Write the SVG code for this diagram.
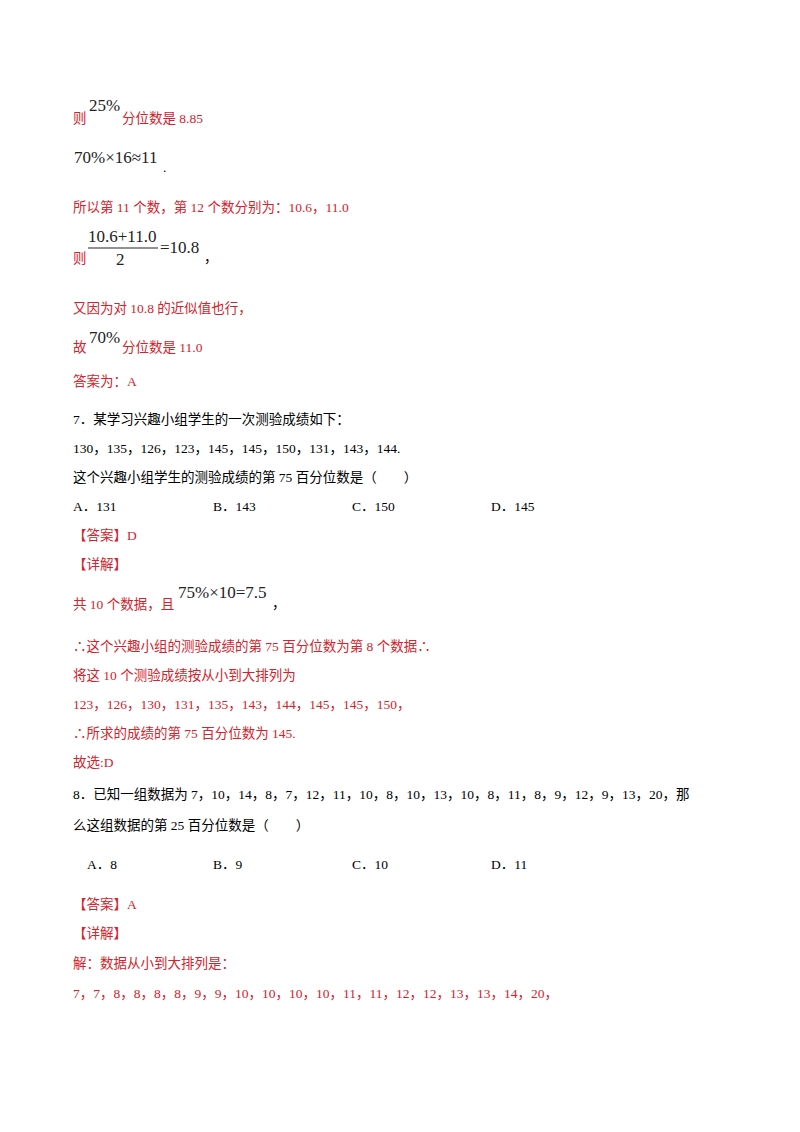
<svg xmlns="http://www.w3.org/2000/svg" width="800" height="1132" viewBox="0 0 800 1132">
<style>
text{font-family:"Liberation Serif","Noto Sans CJK SC",serif;font-size:13.5px;fill:#000}
.r{fill:#d3232c}
.m{font-family:"Liberation Serif",serif;font-size:17px;fill:#222}
</style>
<rect width="800" height="1132" fill="#fff"/>
<text class="r" x="73" y="123">则</text>
<text class="m" x="89" y="111">25%</text>
<text class="r" x="122" y="123">分位数是 8.85</text>
<text class="m" x="74" y="163">70%×16≈11</text>
<text x="163" y="172" font-size="8">.</text>
<text class="r" x="73" y="212">所以第 11 个数，第 12 个数分别为：10.6，11.0</text>
<text class="m" x="88" y="242">10.6+11.0</text>
<line x1="88" y1="248" x2="158" y2="248" stroke="#222" stroke-width="1"/>
<text class="m" x="116" y="265">2</text>
<text class="m" x="160" y="253">=10.8</text>
<text class="r" x="73" y="263">则</text>
<text x="204" y="262">，</text>
<text class="r" x="73" y="313">又因为对 10.8 的近似值也行，</text>
<text class="r" x="73" y="352">故</text>
<text class="m" x="89" y="343">70%</text>
<text class="r" x="122" y="352">分位数是 11.0</text>
<text class="r" x="73" y="386">答案为：A</text>
<text x="73" y="424">7．某学习兴趣小组学生的一次测验成绩如下：</text>
<text x="73" y="453">130，135，126，123，145，145，150，131，143，144.</text>
<text x="73" y="482">这个兴趣小组学生的测验成绩的第 75 百分位数是（　　）</text>
<text x="73" y="511">A．131</text>
<text x="213" y="511">B．143</text>
<text x="352" y="511">C．150</text>
<text x="491" y="511">D．145</text>
<text class="r" x="73" y="540">【答案】D</text>
<text class="r" x="73" y="569">【详解】</text>
<text class="r" x="73" y="609">共 10 个数据，且</text>
<text class="m" x="178" y="598">75%×10=7.5</text>
<text x="272" y="608">，</text>
<text class="r" x="73" y="651">∴这个兴趣小组的测验成绩的第 75 百分位数为第 8 个数据∴</text>
<text class="r" x="73" y="680">将这 10 个测验成绩按从小到大排列为</text>
<text class="r" x="73" y="709">123，126，130，131，135，143，144，145，145，150，</text>
<text class="r" x="73" y="738">∴所求的成绩的第 75 百分位数为 145.</text>
<text class="r" x="73" y="767">故选:D</text>
<text x="73" y="799">8．已知一组数据为 7，10，14，8，7，12，11，10，8，10，13，10，8，11，8，9，12，9，13，20，那</text>
<text x="73" y="830">么这组数据的第 25 百分位数是（　　）</text>
<text x="87" y="869">A．8</text>
<text x="213" y="869">B．9</text>
<text x="352" y="869">C．10</text>
<text x="491" y="869">D．11</text>
<text class="r" x="73" y="909">【答案】A</text>
<text class="r" x="73" y="938">【详解】</text>
<text class="r" x="73" y="968">解：数据从小到大排列是：</text>
<text class="r" x="73" y="998">7，7，8，8，8，8，9，9，10，10，10，10，11，11，12，12，13，13，14，20，</text>
</svg>
